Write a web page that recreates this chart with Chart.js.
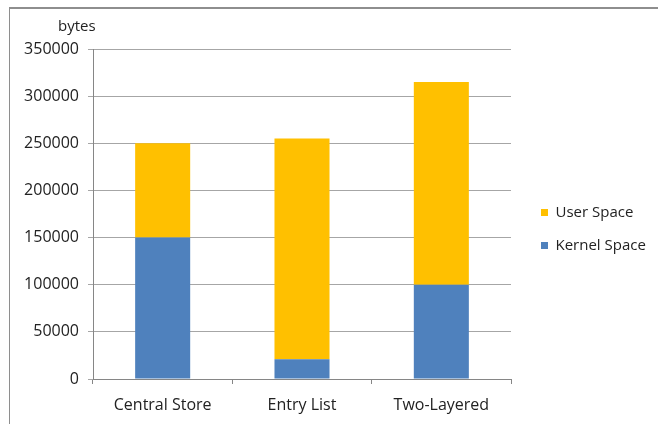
<!DOCTYPE html>
<html>
<head>
<meta charset="utf-8">
<script src="https://cdn.jsdelivr.net/npm/chart.js@4"></script>
<style>
  html, body { margin: 0; padding: 0; background: #fff; }
  #wrap { position: relative; width: 658px; height: 424px; overflow: hidden; }
  #frame { position: absolute; left: 9px; top: 7px; width: 700px; height: 500px;
           border-top: 2px solid #8e8e8e; border-left: 1px solid #8e8e8e; pointer-events: none; }
  canvas { position: absolute; left: 0; top: 0; }
</style>
</head>
<body>
<div id="wrap">
  <canvas id="chart" width="658" height="424"></canvas>
  <div id="frame"></div>
</div>
<script>
const categories = ['Central Store', 'Entry List', 'Two-Layered'];
const kernelSpace = [150000, 21000, 100000];
const userSpace = [100000, 234000, 215000];
const yTicks = [0, 50000, 100000, 150000, 200000, 250000, 300000, 350000];

const FONT = "'Open Sans', sans-serif";
const TEXT = '#222';

// "bytes" unit label above the value axis
const unitLabel = {
  id: 'unitLabel',
  afterDraw(chart) {
    const ctx = chart.ctx;
    ctx.save();
    ctx.font = "15px " + FONT;
    ctx.fillStyle = TEXT;
    ctx.textBaseline = 'middle';
    ctx.textAlign = 'left';
    ctx.fillText('bytes', 58, 27);
    ctx.restore();
  }
};

// legend column: fixed width, a gap from the plot, sits a bit above centre
const legendBox = {
  id: 'legendBox',
  beforeLayout(chart) {
    const lg = chart.legend;
    if (lg && !lg._fixed) {
      const fit = lg.fit.bind(lg);
      lg.fit = function () { fit(); this.width = 147; };
      lg._fixed = true;
    }
  },
  afterLayout(chart) {
    const lg = chart.legend;
    if (lg) {
      lg.left += 12; lg.right += 12;
      lg.bottom -= 15; lg.height -= 15;
    }
  }
};

new Chart(document.getElementById('chart').getContext('2d'), {
  type: 'bar',
  data: {
    labels: categories,
    datasets: [
      {
        label: 'Kernel Space',
        data: kernelSpace,
        backgroundColor: '#4F81BD',
        barPercentage: 0.395,
        categoryPercentage: 1,
      },
      {
        label: 'User Space',
        data: userSpace,
        backgroundColor: '#FFC000',
        barPercentage: 0.395,
        categoryPercentage: 1,
      },
    ],
  },
  options: {
    responsive: false,
    animation: false,
    layout: { padding: { top: 49, left: 0, right: 0, bottom: 0 } },
    scales: {
      x: {
        stacked: true,
        grid: { display: true, drawOnChartArea: false, offset: true, tickLength: 5, color: '#868686' },
        border: { color: '#868686' },
        ticks: { font: { family: FONT, size: 16 }, color: TEXT, padding: 12 },
        afterFit(scale) { scale.height = 45; },
      },
      y: {
        stacked: true,
        min: 0,
        max: 350000,
        afterBuildTicks(scale) { scale.ticks = yTicks.map(v => ({ value: v })); },
        grid: { color: '#a6a6a6', tickLength: 5 },
        border: { color: '#868686' },
        ticks: { font: { family: FONT, size: 16 }, color: TEXT, padding: 9, callback: v => String(v) },
        afterFit(scale) { scale.width = 93; },
      },
    },
    plugins: {
      legend: {
        position: 'right',
        reverse: true,
        labels: {
          boxWidth: 7,
          boxHeight: 7,
          padding: 18,
          color: TEXT,
          font: { family: FONT, size: 15 },
        },
      },
      tooltip: { enabled: false },
    },
  },
  plugins: [unitLabel, legendBox],
});
</script>
</body>
</html>
